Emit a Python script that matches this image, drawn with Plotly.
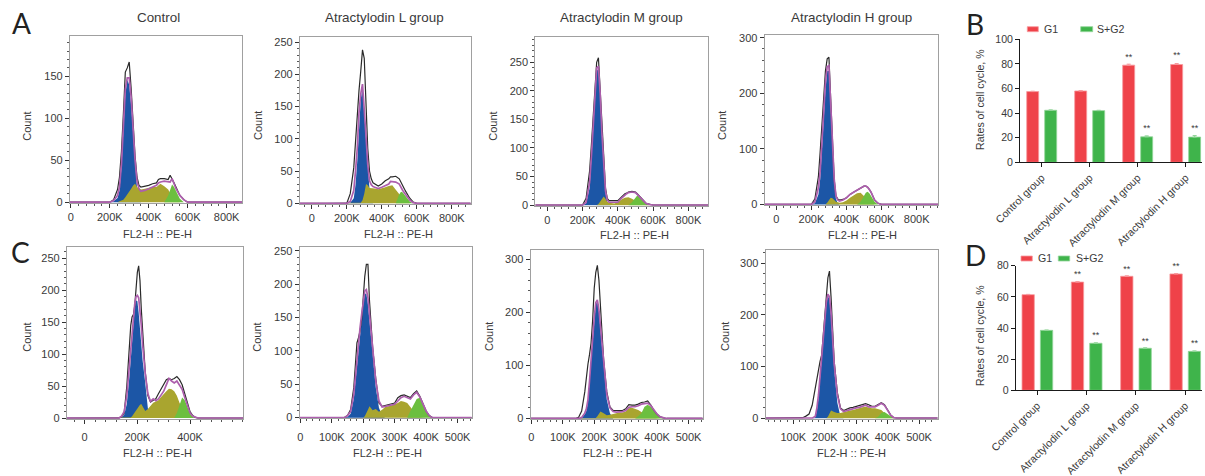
import plotly.graph_objects as go

# ---------- flow cytometry histograms, x in thousands (K) ----------
upper_x = [200,220,240,250,260,270,280,290,300,310,320,330,340,350,360,380,400,420,440,450,460,480,500,510,520,530,540,560,580,600]
lower_x = [130,140,150,160,170,175,180,185,190,195,200,205,210,215,220,230,240,250,
           260,270,280,290,300,310,320,330,340,350,360,370,380,390,400,410,420,430]

a1_black  = [0,3,15,30,60,105,155,160,167,135,90,55,30,20,18,19,20,22,23,27,28,28,27,32,28,23,18,8,3,0]
a1_purple = [0,2,8,18,45,90,135,148,148,125,85,50,25,16,13,14,16,18,20,23,24,25,24,24,28,22,16,8,3,0]
a1_blue   = [0,1,5,14,40,85,128,146,140,115,78,42,17,4] + [0]*16
a1_olive  = [0,0,0,1,2,3,6,9,12,16,20,22,18,16,15,16,17,18,18,20,22,19,15,11,6,4,2,0,0,0]
a1_green  = [0]*22 + [8,16,21,18,13,4,0,0]

a2_black  = [0,15,55,95,140,175,205,238,225,150,85,50,38,32,30,27,30,35,38,41,41,42,38,32,28,22,17,8,2,0]
a2_purple = [0,3,20,50,85,140,170,185,150,105,60,35,29,26,25,23,25,27,30,34,34,33,30,24,20,16,12,5,1,0]
a2_blue   = [0,1,8,28,65,120,162,177,135,90,52,22,5,0] + [0]*16
a2_olive  = [0]*6 + [1,5,15,30,28,24,24,23,23,22,23,25,27,27,28,21,14,10,7,4,3,0,0,0]
a2_green  = [0]*22 + [14,18,17,14,10,3,0,0]

a3_black  = [0,12,60,105,155,205,250,258,200,130,70,30,12,8,8,8,8,14,20,21,23,24,23,20,16,13,10,3,1,0]
a3_purple = [0,5,40,85,135,195,240,243,195,125,65,25,9,5,5,5,5,12,18,20,22,23,22,19,16,13,10,3,1,0]
a3_blue   = [0,3,30,80,130,190,235,238,190,120,60,22,6,1] + [0]*16
a3_olive  = [0]*7 + [2,6,12,15,11,6,4,4,3,5,10,13,14,14,11,7,5,3,2,1,0,0,0]
a3_green  = [0]*21 + [5,14,17,16,13,9,3,0,0]

a4_black  = [0,10,50,95,145,200,240,262,265,190,100,45,15,10,8,9,12,18,22,24,26,30,33,33,31,27,22,8,2,0]
a4_purple = [0,5,30,60,105,165,220,248,250,185,100,45,15,8,6,8,12,18,22,24,26,30,33,33,31,27,22,8,2,0]
a4_blue   = [0,2,18,45,90,150,205,240,240,175,90,38,10,2] + [0]*16
a4_olive  = [0]*7 + [3,7,12,11,8,5,4,3,4,7,12,16,18,20,21,15,12,8,5,3,0,0,0]
a4_green  = [0]*21 + [5,17,21,23,20,15,5,0,0]

c1_black  = [0,2,8,50,115,145,158,162,175,200,228,238,215,170,130,72,35,25, 28,30,38,45,52,60,62,60,62,65,60,52,38,22,10,4,1,0]
c1_purple = [0,3,10,35,85,110,135,155,178,190,192,188,170,145,115,70,38,26, 30,27,30,36,42,52,62,58,55,58,52,45,32,18,8,3,1,0]
c1_blue   = [0,1,5,22,65,95,125,150,172,184,183,165,140,115,90,55,15,2] + [0]*18
c1_olive  = [0,0,0,0,0,1,3,6,9,12,15,20,21,22,19,11,14,20, 24,26,28,33,38,42,46,45,42,35,24,14,6,2,0,0,0,0]
c1_green  = [0]*27 + [8,22,32,28,16,7,2,0,0]

c2_black  = [0,0,3,12,45,85,112,120,130,147,180,212,230,230,175,105,58,22, 17,18,20,20,22,30,33,34,32,30,36,40,32,20,10,3,0,0]
c2_purple = [0,0,3,9,35,62,85,110,135,155,175,190,192,180,155,100,55,25, 16,17,18,19,20,25,30,32,30,28,34,38,31,20,10,3,0,0]
c2_blue   = [0,0,1,6,28,52,78,100,125,148,170,186,186,170,145,92,45,15, 3] + [0]*17
c2_olive  = [0]*10 + [0,2,6,12,17,11,13,9, 12,16,17,18,20,22,25,24,22,16,10,4,1,0,0,0,0,0]
c2_green  = [0]*27 + [10,20,28,30,18,9,3,0,0]

c3_black  = [0,0,2,14,50,78,102,120,142,185,245,275,288,260,205,110,50,22, 15,15,15,15,18,26,25,25,27,30,31,33,25,15,8,3,1,0]
c3_purple = [0,0,0,2,10,18,35,70,115,150,190,218,223,205,170,100,45,20, 13,12,12,13,15,21,22,22,24,27,28,29,24,15,8,3,1,0]
c3_blue   = [0,0,0,1,8,14,30,62,108,142,183,215,220,200,165,93,35,10] + [0]*18
c3_olive  = [0]*11 + [1,4,8,13,10,6,7, 9,10,11,11,13,19,20,18,16,12,8,5,2,1,0,0,0,0]
c3_green  = [0]*26 + [4,10,22,26,22,14,7,2,0,0]

c4_black  = [1,4,8,25,60,82,100,110,122,155,195,235,272,285,235,110,50,20, 15,18,20,21,23,25,26,28,26,23,23,26,30,26,15,6,1,0]
c4_purple = [0,0,0,0,4,20,45,80,120,150,190,225,240,235,205,105,45,18, 13,15,17,18,20,21,23,25,22,22,22,25,29,25,14,6,1,0]
c4_blue   = [0,0,0,0,2,15,38,72,112,145,185,222,237,230,198,95,30,3] + [0]*18
c4_olive  = [0]*12 + [3,9,15,12,10,10, 12,13,15,16,18,19,21,22,20,19,19,18,16,10,5,2,0,0]
c4_green  = [0]*29 + [3,10,12,8,3,0,0]

panel_titles = ["Control", "Atractylodin L group", "Atractylodin M group", "Atractylodin H group"]
x_axis_label = "FL2-H :: PE-H"
y_axis_label = "Count"

# ---------- bar charts ----------
groups = ["Control group", "Atractylodin L group", "Atractylodin M group", "Atractylodin H group"]
b_g1  = [57.5, 58, 79, 79.5]
b_s   = [42.3, 42, 20.7, 20.5]
b_g1_err = [0.3, 0.3, 0.8, 0.8]
b_s_err  = [0.3, 0.3, 0.8, 1.3]
b_g1_star = [None, None, 85.4, 87]
b_s_star  = [None, None, 27.1, 27.1]
d_g1  = [61.4, 69.5, 73.2, 74.7]
d_s   = [38.5, 30.2, 27, 25]
d_g1_err = [0.2, 0.3, 0.3, 0.3]
d_s_err  = [0.2, 0.3, 0.3, 0.3]
d_g1_star = [None, 74.5, 77.5, 79.5]
d_s_star  = [None, 35.3, 31.3, 30]

W, H = 1205, 476
BLACK, PURPLE, BLUE, OLIVE, GREEN = "#2a2a2a", "#ad5fad", "#1c56a6", "#a9a52f", "#6cbf3f"
RED_BAR, GREEN_BAR = "#ef4249", "#3fb44b"
TXT = "#3a3a3a"
FONT = "Liberation Sans, Arial, sans-serif"

def xd(a, b): return [a / W, b / W]
def yd(top, bot): return [1 - bot / H, 1 - top / H]

def k_labels(vals):
    return ["0" if v == 0 else f"{v}K" for v in vals]

def minor_vals(rng, step):
    lo = int(rng[0] // step + 1) * step
    return list(range(lo, int(rng[1]) + 1, step))

panels = [
  dict(x=upper_x, s=(a1_black,a1_purple,a1_blue,a1_olive,a1_green), box=(70,242,36,203), xr=(-4,879), yr=(-1,198),
       xt=[0,200,400,600,800], xm=40, yt=[0,50,100,150], ym=10, cx=26.7, cy=126, lab=0),
  dict(x=upper_x, s=(a2_black,a2_purple,a2_blue,a2_olive,a2_green), box=(300,470.7,37,204), xr=(-67,908), yr=(-1,258),
       xt=[0,200,400,600,800], xm=40, yt=[0,50,100,150,200,250], ym=10, cx=258, cy=126, lab=0),
  dict(x=upper_x, s=(a3_black,a3_purple,a3_blue,a3_olive,a3_green), box=(535.3,708.3,37.3,205.7), xr=(-68,913), yr=(-1,293.7),
       xt=[0,200,400,600,800], xm=40, yt=[0,50,100,150,200,250], ym=10, cx=492.7, cy=126, lab=0),
  dict(x=upper_x, s=(a4_black,a4_purple,a4_blue,a4_olive,a4_green), box=(764.7,938.3,35,205), xr=(-66,923), yr=(-1,305),
       xt=[0,200,400,600,800], xm=40, yt=[0,100,200,300], ym=20, cx=722, cy=126, lab=0),
  dict(x=lower_x, s=(c1_black,c1_purple,c1_blue,c1_olive,c1_green), box=(67,243,246.7,418.7), xr=(-67,601), yr=(-1,268),
       xt=[0,200,400], xm=40, yt=[0,50,100,150,200,250], ym=10, cx=26.7, cy=337, lab=4),
  dict(x=lower_x, s=(c2_black,c2_purple,c2_blue,c2_olive,c2_green), box=(299.7,471.7,246.7,418.3), xr=(-2,545), yr=(-1,256.4),
       xt=[0,100,200,300,400,500], xm=20, yt=[0,50,100,150,200,250], ym=10, cx=256.7, cy=337, lab=4),
  dict(x=lower_x, s=(c3_black,c3_purple,c3_blue,c3_olive,c3_green), box=(530.7,702.7,249.7,419), xr=(-2,545), yr=(-1,317.5),
       xt=[0,100,200,300,400,500], xm=20, yt=[0,100,200,300], ym=20, cx=489, cy=337, lab=4),
  dict(x=lower_x, s=(c4_black,c4_purple,c4_blue,c4_olive,c4_green), box=(765.7,937.7,250,418.7), xr=(12,559.5), yr=(-1,325.7),
       xt=[100,200,300,400,500], xm=20, yt=[0,100,200,300], ym=20, cx=725, cy=337, lab=4),
]
title_centers = [158, 384, 621.7, 851.7]
xlab_centers = [157.7, 398, 634, 862, 157.7, 387, 617, 851]
xlab_y = [234, 234, 235, 235, 452.7, 452.7, 452.7, 452.7]

fig = go.Figure()
layout = {}
anns = []
shapes = []

def pad(x, xr):
    return [xr[0]] + list(x) + [xr[1]]

def ann(text, x, y, size, color=TXT, angle=0, anchor="center", family=FONT):
    anns.append(dict(text=text, x=x / W, y=1 - y / H, xref="paper", yref="paper", showarrow=False,
                     xanchor=anchor, yanchor="middle", textangle=angle,
                     font=dict(family=family, size=size, color=color)))

for i, p in enumerate(panels, start=1):
    ax = "" if i == 1 else str(i)
    xs = pad(p["x"], p["xr"])
    black, purple, blue, olive, green = [[0] + list(v) + [0] for v in p["s"]]
    for vals, col in ((blue, BLUE), (olive, OLIVE), (green, GREEN)):
        fig.add_trace(go.Scatter(x=xs, y=vals, mode="lines", fill="tozeroy", fillcolor=col,
                                 line=dict(width=0, color=col), xaxis="x"+ax, yaxis="y"+ax,
                                 showlegend=False, hoverinfo="skip"))
    fig.add_trace(go.Scatter(x=xs, y=black, mode="lines", line=dict(width=1.2, color=BLACK),
                             xaxis="x"+ax, yaxis="y"+ax, showlegend=False, hoverinfo="skip"))
    fig.add_trace(go.Scatter(x=xs, y=purple, mode="lines", line=dict(width=1.7, color=PURPLE),
                             xaxis="x"+ax, yaxis="y"+ax, showlegend=False, hoverinfo="skip"))
    l, r, t, b = p["box"]
    common = dict(showgrid=False, zeroline=False, showline=True, mirror=True, linecolor="#a0a0a0", linewidth=1.2,
                  ticks="outside", ticklen=4, tickcolor="#333333", tickwidth=1,
                  tickfont=dict(family=FONT, size=11, color=TXT))
    layout["xaxis"+ax] = dict(common, domain=xd(l, r), range=list(p["xr"]), anchor="y"+ax,
                              tickmode="array", tickvals=p["xt"], ticktext=k_labels(p["xt"]),
                              ticklabelstandoff=p["lab"],
                              minor=dict(tickmode="array", tickvals=minor_vals(p["xr"], p["xm"]),
                                         ticks="outside", ticklen=2, tickcolor="#555555", showgrid=False))
    layout["yaxis"+ax] = dict(common, domain=yd(t, b), range=list(p["yr"]), anchor="x"+ax,
                              tickmode="array", tickvals=p["yt"], ticktext=[str(v) for v in p["yt"]],
                              minor=dict(tickmode="array", tickvals=minor_vals((0, p["yr"][1]), p["ym"]),
                                         ticks="outside", ticklen=2, tickcolor="#555555", showgrid=False))
    ann(y_axis_label, p["cx"], p["cy"], 11, angle=-90)
    ann(x_axis_label, xlab_centers[i-1], xlab_y[i-1], 11)

for t, c in zip(panel_titles, title_centers):
    ann(t, c, 18, 13.4)

# bars
def bars(idx, g1, s, g1e, se, g1star, sstar, xdom, xr, ydom, yr, yt, redoff, greenoff):
    ax = str(idx)
    pos = list(range(len(groups)))
    fig.add_trace(go.Bar(x=pos, y=g1, width=0.25, offset=redoff, marker=dict(color=RED_BAR, line=dict(color="#f79a9e", width=0.8)),
                         error_y=dict(type="data", array=g1e, symmetric=False, arrayminus=[0]*4, color="#f79a9e", thickness=1, width=2),
                         xaxis="x"+ax, yaxis="y"+ax, showlegend=False, hoverinfo="skip"))
    fig.add_trace(go.Bar(x=pos, y=s, width=0.25, offset=greenoff, marker=dict(color=GREEN_BAR, line=dict(color="#93d69a", width=0.8)),
                         error_y=dict(type="data", array=se, symmetric=False, arrayminus=[0]*4, color="#93d69a", thickness=1, width=2),
                         xaxis="x"+ax, yaxis="y"+ax, showlegend=False, hoverinfo="skip"))
    red_c = redoff + 0.125
    green_c = greenoff + 0.125
    fig.add_trace(go.Scatter(x=[q + red_c for q in pos], y=g1star, mode="text", text=["**" if v is not None else "" for v in g1star],
                             textfont=dict(family=FONT, size=9, color=TXT), cliponaxis=False,
                             xaxis="x"+ax, yaxis="y"+ax, showlegend=False, hoverinfo="skip"))
    fig.add_trace(go.Scatter(x=[q + green_c for q in pos], y=sstar, mode="text", text=["**" if v is not None else "" for v in sstar],
                             textfont=dict(family=FONT, size=9, color=TXT), cliponaxis=False,
                             xaxis="x"+ax, yaxis="y"+ax, showlegend=False, hoverinfo="skip"))
    common = dict(showgrid=False, zeroline=False, showline=True, linecolor="#1a1a1a", linewidth=1.3,
                  ticks="outside", ticklen=4, tickcolor="#1a1a1a", tickwidth=1.3,
                  tickfont=dict(family=FONT, size=10.6, color=TXT))
    layout["xaxis"+ax] = dict(common, domain=xdom, range=xr, anchor="y"+ax, tickmode="array", tickvals=pos,
                              ticktext=groups, tickangle=-45)
    layout["yaxis"+ax] = dict(common, domain=ydom, range=yr, anchor="x"+ax, tickmode="array", tickvals=yt,
                              ticktext=[str(v) for v in yt])

bars(9, b_g1, b_s, b_g1_err, b_s_err, b_g1_star, b_s_star, xd(1020.3, 1201.5), [-0.446, 3.33], yd(39.3, 162.3), [0, 100],
     [0,20,40,60,80,100], -0.3125, 0.0625)
bars(10, d_g1, d_s, d_g1_err, d_s_err, d_g1_star, d_s_star, xd(1016, 1201.5), [-0.432, 3.33], yd(265.7, 390.3), [0, 80],
     [0,20,40,60,80], -0.31, 0.0625)

ann("Rates of cell cycle, %", 980, 100, 10.6, angle=-90)
ann("Rates of cell cycle, %", 980, 336, 10.6, angle=-90)

def legend_item(x0, x1, y0, y1, col, line, text, tx, ty):
    shapes.append(dict(type="rect", xref="paper", yref="paper", x0=x0/W, x1=x1/W, y0=1-y1/H, y1=1-y0/H,
                       fillcolor=col, line=dict(color=line, width=0.8)))
    ann(text, tx, ty, 10.6, anchor="left")

legend_item(1027.3, 1038.3, 26.7, 31.7, RED_BAR, "#f79a9e", "G1", 1041.7, 29)
legend_item(1080.7, 1092.7, 26.7, 31.7, GREEN_BAR, "#93d69a", "S+G2", 1095, 29)
legend_item(1021, 1032.3, 256, 261, RED_BAR, "#f79a9e", "G1", 1036.3, 258.3)
legend_item(1058.3, 1069.7, 256, 261, GREEN_BAR, "#93d69a", "S+G2", 1073.7, 258.3)

ann("A", 21, 23, 28, color="#222222", family="Lato, sans-serif")
ann("B", 975, 24, 28, color="#222222", family="Lato, sans-serif")
ann("C", 20, 252, 28, color="#222222", family="Lato, sans-serif")
ann("D", 975.5, 255, 28, color="#222222", family="Lato, sans-serif")

fig.update_layout(width=W, height=H, autosize=False, margin=dict(l=0, r=0, t=0, b=0, autoexpand=False),
                  paper_bgcolor="white", plot_bgcolor="white", barmode="overlay",
                  annotations=anns, shapes=shapes, **layout)
fig.write_html("out.html", config={"displayModeBar": False},
               post_script="document.body.style.margin='0';document.documentElement.style.overflow='hidden';")
